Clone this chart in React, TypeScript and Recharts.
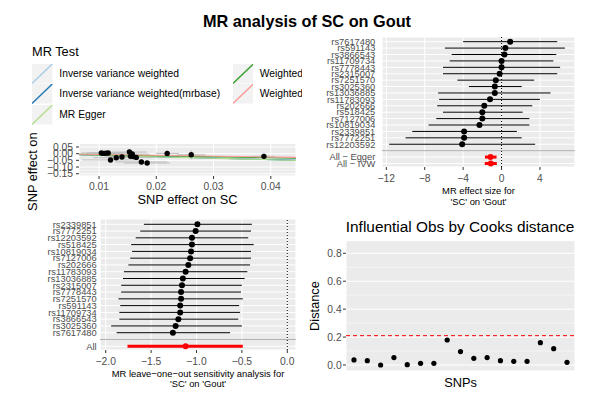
import React from 'react';
import { ScatterChart, Scatter, XAxis, YAxis, CartesianGrid, ErrorBar, ReferenceLine } from 'recharts';

const FONT = '"Liberation Sans", Arial, Helvetica, sans-serif';
const AXIS_TEXT = '#4D4D4D';
const PANEL_BG = '#EBEBEB';
const MINUS = '\u2212';
const NBSP = '\u00A0';

// scatter: SNP effect on SC (x) against SNP effect on Gout (y)
const snpEffectSC = [0.0104, 0.0108, 0.0112, 0.0116, 0.012, 0.013, 0.014, 0.0153, 0.0155, 0.0158, 0.016, 0.0165, 0.0174, 0.0184, 0.0219, 0.0261, 0.0388];
const snpEffectGout = [0.005, 0.002, 0.004, 0.005, -0.047, -0.03, -0.025, 0.012, -0.02, -0.003, -0.022, -0.028, -0.062, -0.07, 0.002, -0.008, -0.02];
const seSC = [0.0035, 0.003, 0.003, 0.003, 0.005, 0.004, 0.003, 0.003, 0.004, 0.003, 0.003, 0.003, 0.0045, 0.004, 0.002, 0.0025, 0.002];
const seGout = [0.012, 0.01, 0.012, 0.01, 0.014, 0.012, 0.015, 0.02, 0.025, 0.018, 0.015, 0.018, 0.02, 0.015, 0.022, 0.035, 0.028];
const scatterXTicks = [0.01, 0.02, 0.03, 0.04];
const scatterXMinor = [0.015, 0.025, 0.035];
const scatterYTicks = [-0.15, -0.1, -0.05, 0, 0.05];
const scatterYMinor = [-0.125, -0.075, -0.025, 0.025, 0.075];

const methodNames = ['Inverse variance weighted', 'Inverse variance weighted(mrbase)', 'MR Egger', 'Weighted median', 'Weighted mode'];
const methodSlope = [-1.12, -1.12, -1.15, -0.78, -0.62];
const methodIntercept = [0, 0, 0.0005, 0, 0];
const methodColours = ['#A6CEE3', '#1F78B4', '#B2DF8A', '#33A02C', '#FB9A99'];

// single SNP forest
const forestSnps = ['rs7617480', 'rs591143', 'rs3866543', 'rs11709734', 'rs7778443', 'rs2315007', 'rs7251570', 'rs3025360', 'rs13036885', 'rs11783093', 'rs202666', 'rs518425', 'rs7127006', 'rs10819034', 'rs2339851', 'rs7772251', 'rs12203592'];
const forestBeta = [0.9, 0.4, 0.3, 0.0, 0.0, -0.2, -0.6, -0.7, -0.7, -1.2, -1.8, -2.0, -2.0, -2.3, -3.9, -3.9, -4.1];
const forestLower = [-4.0, -5.9, -5.2, -5.4, -6.1, -6.1, -4.6, -3.4, -6.6, -6.5, -6.7, -6.1, -6.8, -7.6, -9.3, -10.0, -11.7];
const forestUpper = [5.8, 6.6, 5.7, 5.4, 6.1, 5.8, 3.4, 2.1, 5.1, 4.0, 3.2, 2.2, 2.9, 2.9, 1.6, 2.1, 3.5];
const forestSumLabels = ['All' + NBSP + MINUS + NBSP + 'Egger', 'All' + NBSP + MINUS + NBSP + 'IVW'];
const forestSumBeta = [-1.15, -1.12];
const forestSumLower = [-1.73, -1.75];
const forestSumUpper = [-0.52, -0.49];
const forestXTicks = [-12, -8, -4, 0, 4];
const forestXMinor = [-10, -6, -2, 2, 6];

// leave one out
const looSnps = ['rs2339851', 'rs7772251', 'rs12203592', 'rs518425', 'rs10819034', 'rs7127006', 'rs202666', 'rs11783093', 'rs13036885', 'rs2315007', 'rs7778443', 'rs7251570', 'rs591143', 'rs11709734', 'rs3866543', 'rs3025360', 'rs7617480'];
const looBeta = [-0.99, -1.01, -1.05, -1.05, -1.06, -1.07, -1.09, -1.12, -1.15, -1.16, -1.17, -1.17, -1.18, -1.18, -1.2, -1.23, -1.26];
const looLower = [-1.58, -1.62, -1.67, -1.72, -1.71, -1.73, -1.75, -1.8, -1.81, -1.83, -1.83, -1.86, -1.84, -1.85, -1.85, -1.94, -1.88];
const looUpper = [-0.39, -0.4, -0.43, -0.37, -0.4, -0.4, -0.41, -0.44, -0.47, -0.5, -0.51, -0.49, -0.53, -0.52, -0.54, -0.5, -0.63];
const looSumLabels = ['All'];
const looSumBeta = [-1.12];
const looSumLower = [-1.76];
const looSumUpper = [-0.49];
const looXTicks = [-2, -1.5, -1, -0.5, 0];
const looXMinor = [-1.75, -1.25, -0.75, -0.25];

// cooks distance
const cooksDistance = [0.036, 0.031, 0.0, 0.053, 0.002, 0.012, 0.012, 0.179, 0.096, 0.048, 0.053, 0.031, 0.026, 0.026, 0.16, 0.117, 0.019];
const cooksThreshold = 0.21;
const cooksYTicks = [0, 0.2, 0.4, 0.6, 0.8];
const cooksYMinor = [0.1, 0.3, 0.5, 0.7];

const fmt = (d: number) => (v: number) => {
  const s = Math.abs(v).toFixed(d);
  return v < -1e-9 ? MINUS + s : s;
};

const dot = (r: number, fill: string) => (p: any) => <circle cx={p.cx} cy={p.cy} r={r} fill={fill} />;

function Txt({ x, y, size, children, bold, rotate, left }: any) {
  const tr = `translate(${left ? 0 : -50}%, -50%)` + (rotate ? ' rotate(-90deg)' : '');
  return (
    <div style={{ position: 'absolute', left: x, top: y, transform: tr, fontSize: size, fontWeight: bold ? 'bold' : 'normal', whiteSpace: 'nowrap', lineHeight: 1 }}>
      {children}
    </div>
  );
}

function ForestPanel(p: any) {
  const sep = p.snps.length;
  const rows = p.snps.map((s: string, i: number) => ({ row: i, b: p.beta[i], err: [p.beta[i] - p.lower[i], p.upper[i] - p.beta[i]] }));
  const sumRows = p.sumLabels.map((s: string, i: number) => ({
    row: sep + 1 + i, b: p.sumBeta[i], err: [p.sumBeta[i] - p.sumLower[i], p.sumUpper[i] - p.sumBeta[i]],
  }));
  const labels = [...p.snps, '', ...p.sumLabels];
  const yTicks = labels.map((_: string, i: number) => i).filter((i: number) => i !== sep);
  return (
    <div style={{ position: 'absolute', left: p.left, top: p.top }}>
      <ScatterChart width={p.width} height={p.height} margin={p.margin}>
        <CartesianGrid xAxisId="minor" horizontal={false} fill={PANEL_BG} fillOpacity={1} stroke="#fff" strokeWidth={0.5} />
        <CartesianGrid stroke="#fff" strokeWidth={1} />
        <XAxis xAxisId="minor" type="number" domain={p.xDomain} ticks={p.xMinor} allowDataOverflow hide />
        <XAxis type="number" dataKey="b" domain={p.xDomain} ticks={p.xTicks} allowDataOverflow interval={0}
          tickFormatter={fmt(p.digits)} axisLine={false} tickLine={{ stroke: '#333' }} tickSize={3} tickMargin={p.xGap}
          height={p.xHeight} tick={{ fill: AXIS_TEXT, fontSize: 10.3 }} />
        <YAxis type="number" dataKey="row" reversed domain={p.yDomain} ticks={yTicks} allowDataOverflow interval={0}
          tickFormatter={(v: number) => labels[v]} axisLine={false} tickLine={false} tickSize={0} tickMargin={p.yGap}
          width={p.yWidth} tick={{ fill: AXIS_TEXT, fontSize: 9.3 }} />
        <ReferenceLine x={0} stroke="#000" strokeDasharray="1 2" />
        <ReferenceLine y={sep} stroke="#B3B3B3" strokeWidth={1} />
        <Scatter data={rows} shape={dot(3, '#000')} isAnimationActive={false}>
          <ErrorBar dataKey="err" direction="x" width={0} stroke="#000" strokeWidth={1} isAnimationActive={false} />
        </Scatter>
        <Scatter data={sumRows} shape={dot(3, '#FF0000')} isAnimationActive={false}>
          <ErrorBar dataKey="err" direction="x" width={0} stroke="#FF0000" strokeWidth={3} isAnimationActive={false} />
        </Scatter>
      </ScatterChart>
    </div>
  );
}

function ScatterPanel() {
  const xDomain: [number, number] = [0.0065, 0.0444];
  const rows = snpEffectSC.map((x, i) => ({ x, y: snpEffectGout[i], ex: seSC[i], ey: seGout[i] }));
  return (
    <div style={{ position: 'absolute', left: 0, top: 135 }}>
      <ScatterChart width={302} height={60} margin={{ top: 8.5, right: 6, bottom: 0, left: 0 }}>
        <CartesianGrid xAxisId="minor" yAxisId="minor" fill={PANEL_BG} fillOpacity={1} stroke="#fff" strokeWidth={0.5} />
        <CartesianGrid stroke="#fff" strokeWidth={1} />
        <XAxis xAxisId="minor" type="number" domain={xDomain} ticks={scatterXMinor} allowDataOverflow hide />
        <YAxis yAxisId="minor" type="number" domain={[-0.167, 0.076]} ticks={scatterYMinor} allowDataOverflow hide />
        <XAxis type="number" dataKey="x" domain={xDomain} ticks={scatterXTicks} allowDataOverflow interval={0}
          tickFormatter={fmt(2)} axisLine={false} tickLine={{ stroke: '#333' }} tickSize={3} tickMargin={3.5}
          height={19} tick={{ fill: AXIS_TEXT, fontSize: 10.3 }} />
        <YAxis type="number" dataKey="y" domain={[-0.167, 0.076]} ticks={scatterYTicks} allowDataOverflow interval={0}
          tickFormatter={fmt(2)} axisLine={false} tickLine={{ stroke: '#333' }} tickSize={3} tickMargin={3}
          width={79} tick={{ fill: AXIS_TEXT, fontSize: 10.3 }} />
        <Scatter data={rows} shape={dot(2.7, '#000')} isAnimationActive={false}>
          <ErrorBar dataKey="ey" direction="y" width={0} stroke="#BEBEBE" strokeWidth={1} isAnimationActive={false} />
          <ErrorBar dataKey="ex" direction="x" width={0} stroke="#BEBEBE" strokeWidth={1} isAnimationActive={false} />
        </Scatter>
        {methodNames.map((m, i) => (
          <ReferenceLine key={m} ifOverflow="hidden" stroke={methodColours[i]} strokeWidth={1.1}
            segment={[
              { x: xDomain[0], y: methodIntercept[i] + methodSlope[i] * xDomain[0] },
              { x: xDomain[1], y: methodIntercept[i] + methodSlope[i] * xDomain[1] },
            ]} />
        ))}
      </ScatterChart>
    </div>
  );
}

function CooksPanel() {
  const rows = cooksDistance.map((d, i) => ({ snp: i + 1, d }));
  const yDomain: [number, number] = [-0.043, 0.89];
  return (
    <div style={{ position: 'absolute', left: 310, top: 232 }}>
      <ScatterChart width={270} height={155} margin={{ top: 8.7, right: 5, bottom: 0, left: 0 }}>
        <CartesianGrid yAxisId="minor" vertical={false} fill={PANEL_BG} fillOpacity={1} stroke="#fff" strokeWidth={0.5} />
        <CartesianGrid stroke="#fff" strokeWidth={1} />
        <YAxis yAxisId="minor" type="number" domain={yDomain} ticks={cooksYMinor} allowDataOverflow hide />
        <XAxis type="number" dataKey="snp" domain={[0.4, 17.6]} ticks={rows.map((r) => r.snp)} allowDataOverflow interval={0}
          tick={false} axisLine={false} tickLine={{ stroke: '#333' }} tickSize={3} height={16} />
        <YAxis type="number" dataKey="d" domain={yDomain} ticks={cooksYTicks} allowDataOverflow interval={0}
          tickFormatter={fmt(1)} axisLine={false} tickLine={{ stroke: '#333' }} tickSize={3} tickMargin={1.3}
          width={36} tick={{ fill: AXIS_TEXT, fontSize: 10.3 }} />
        <Scatter data={rows} shape={dot(2.6, '#000')} isAnimationActive={false} />
        <ReferenceLine y={cooksThreshold} stroke="#FF0000" strokeDasharray="4 3" strokeWidth={1} />
      </ScatterChart>
    </div>
  );
}

function LegendBox() {
  const keyLeft = [32.3, 232.7];
  const keyTop = [26, 46.3, 67];
  return (
    <div style={{ position: 'absolute', left: 0, top: 38, width: 302, height: 91, background: '#fff', overflow: 'hidden' }}>
      <Txt x={32} y={14} size={12.8} left>MR Test</Txt>
      {methodNames.map((m, i) => {
        const c = Math.floor(i / 3);
        const r = i % 3;
        return (
          <React.Fragment key={m}>
            <svg style={{ position: 'absolute', left: keyLeft[c], top: keyTop[r] }} width={20.3} height={19.5}>
              <rect x={0} y={0} width={20.3} height={19.5} fill="#F2F2F2" />
              <line x1={0} y1={19.5} x2={20.3} y2={0} stroke={methodColours[i]} strokeWidth={1.4} />
            </svg>
            <Txt x={keyLeft[c] + 27} y={keyTop[r] + 9.8} size={10.3} left>{m}</Txt>
          </React.Fragment>
        );
      })}
    </div>
  );
}

export default function App() {
  return (
    <div style={{ position: 'absolute', left: 0, top: 0, width: 615, height: 396, background: '#fff', fontFamily: FONT, color: '#000', overflow: 'hidden' }}>
      <Txt x={307} y={21} size={16.3} bold>MR analysis of SC on Gout</Txt>

      <Txt x={32.5} y={156} size={12.8} rotate>SNP effect on Gout</Txt>
      <LegendBox />
      <ScatterPanel />
      <Txt x={187.5} y={199.5} size={12.8}>SNP effect on SC</Txt>

      <ForestPanel left={310} top={30} width={270} height={180} margin={{ top: 7, right: 5, bottom: 0, left: 0 }}
        snps={forestSnps} beta={forestBeta} lower={forestLower} upper={forestUpper}
        sumLabels={forestSumLabels} sumBeta={forestSumBeta} sumLower={forestSumLower} sumUpper={forestSumUpper}
        xTicks={forestXTicks} xMinor={forestXMinor} xDomain={[-12.45, 7.65]} yDomain={[-0.73, 19.55]} digits={0}
        yWidth={72} xHeight={43} yGap={6.7} xGap={4.4} />
      <Txt x={478.5} y={191} size={9.4}>MR effect size for</Txt>
      <Txt x={478.5} y={201.7} size={9.4}>'SC' on 'Gout'</Txt>

      <ForestPanel left={0} top={205} width={302} height={190} margin={{ top: 14, right: 6, bottom: 0, left: 0 }}
        snps={looSnps} beta={looBeta} lower={looLower} upper={looUpper}
        sumLabels={looSumLabels} sumBeta={looSumBeta} sumLower={looSumLower} sumUpper={looSumUpper}
        xTicks={looXTicks} xMinor={looXMinor} xDomain={[-2.063, 0.096]} yDomain={[-0.78, 18.55]} digits={1}
        yWidth={100} xHeight={45} yGap={3.3} xGap={4.7} />
      <Txt x={198} y={374} size={9.4}>MR leave{MINUS}one{MINUS}out sensitivity analysis for</Txt>
      <Txt x={198} y={384} size={9.4}>'SC' on 'Gout'</Txt>

      <Txt x={460} y={226.7} size={15.4}>Influential Obs by Cooks distance</Txt>
      <CooksPanel />
      <Txt x={315} y={306} size={12.8} rotate>Distance</Txt>
      <Txt x={460.5} y={383.3} size={12.8}>SNPs</Txt>
    </div>
  );
}
